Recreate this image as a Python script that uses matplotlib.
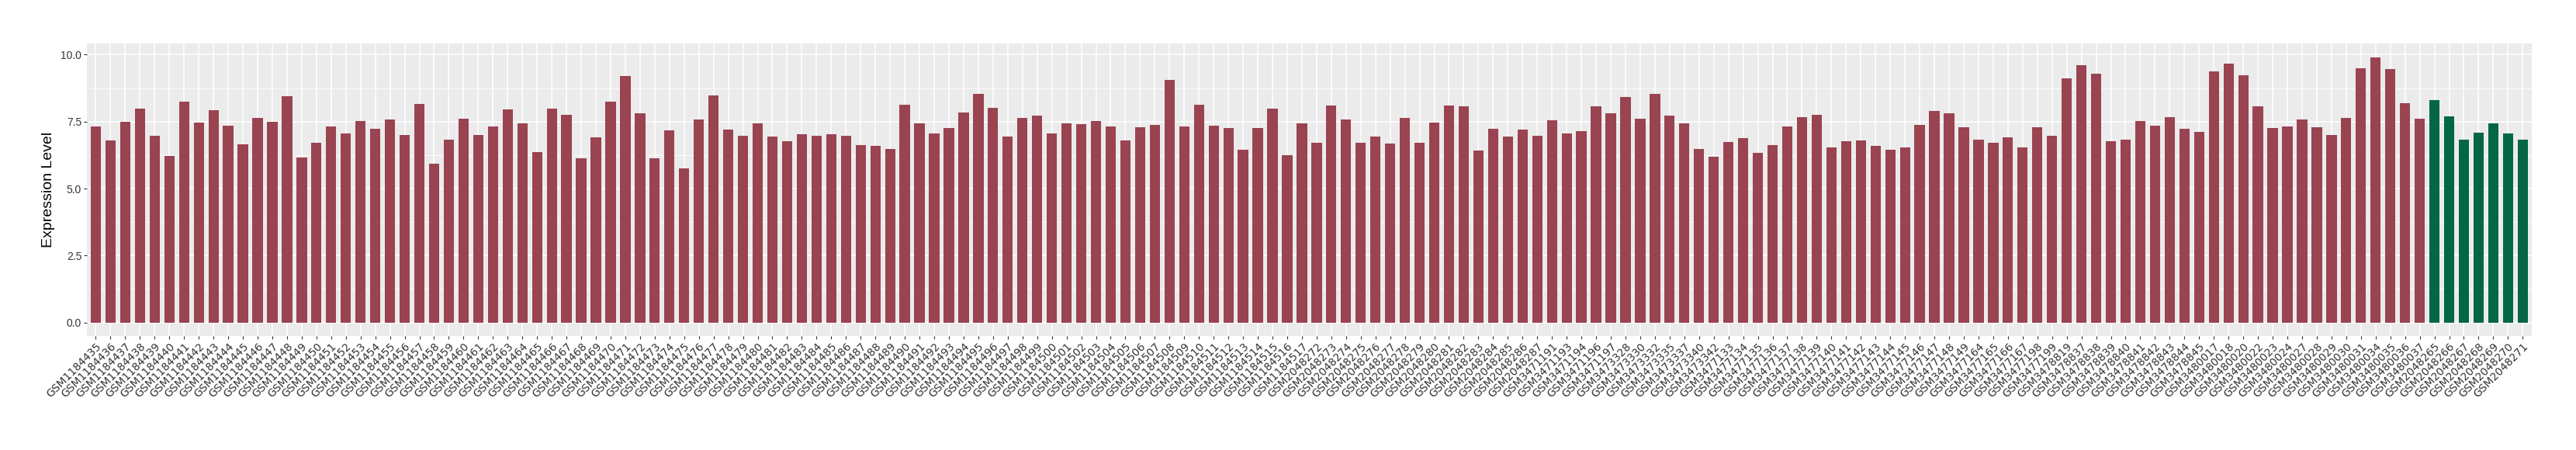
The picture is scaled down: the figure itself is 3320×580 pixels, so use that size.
import matplotlib
matplotlib.use("Agg")
import matplotlib.pyplot as plt
import numpy as np

# sample ids, in plot order
ids_1184 = ["GSM" + str(n) for n in range(1184435, 1184518)]
ids_2048_a = ["GSM" + str(n) for n in range(2048272, 2048288)]
ids_3471 = ["GSM3471191", "GSM3471193", "GSM3471194", "GSM3471196", "GSM3471197"]
ids_3473 = ["GSM3473328", "GSM3473330", "GSM3473332", "GSM3473335",
            "GSM3473337", "GSM3473340", "GSM3473342"]
ids_3477 = (["GSM" + str(n) for n in range(3477133, 3477150)]
            + ["GSM3477164", "GSM3477165", "GSM3477166", "GSM3477167",
               "GSM3477198", "GSM3477199"])
ids_3478 = ["GSM3478819", "GSM3478837", "GSM3478838", "GSM3478839", "GSM3478840",
            "GSM3478841", "GSM3478842", "GSM3478843", "GSM3478844", "GSM3478845"]
ids_3480 = ["GSM3480017", "GSM3480018", "GSM3480020", "GSM3480022", "GSM3480023",
            "GSM3480024", "GSM3480027", "GSM3480028", "GSM3480029", "GSM3480030",
            "GSM3480031", "GSM3480034", "GSM3480035", "GSM3480036", "GSM3480037"]
ids_normal = ["GSM" + str(n) for n in range(2048265, 2048272)]

# expression values
val_1184 = [7.31, 6.79, 7.48, 7.98, 6.96, 6.21, 8.24, 7.45, 7.92, 7.34,
            6.64, 7.63, 7.48, 8.46, 6.15, 6.70, 7.31, 7.05, 7.51, 7.22,
            7.57, 6.99, 8.15, 5.94, 6.84, 7.60, 6.99, 7.31, 7.95, 7.43,
            6.35, 7.98, 7.74, 6.12, 6.90, 8.24, 9.19, 7.80, 6.12, 7.16,
            5.74, 7.57, 8.49, 7.19, 6.96, 7.43, 6.93, 6.76, 7.02, 6.96,
            7.02, 6.96, 6.61, 6.58, 6.47, 8.12, 7.43, 7.05, 7.25, 7.83,
            8.55, 8.01, 6.93, 7.63, 7.72, 7.05, 7.43, 7.40, 7.51, 7.31,
            6.79, 7.28, 7.37, 9.07, 7.31, 8.12, 7.34, 7.25, 6.44, 7.25,
            7.98, 6.26, 7.43]
val_2048_a = [6.70, 8.09, 7.57, 6.70, 6.93, 6.67, 7.63, 6.70, 7.45, 8.09,
              8.06, 6.41, 7.22, 6.93, 7.19, 6.96]
val_3471 = [7.54, 7.05, 7.14, 8.06, 7.80]
val_3473 = [8.43, 7.60, 8.55, 7.72, 7.43, 6.47, 6.18]
val_3477 = [6.73, 6.87, 6.32, 6.61, 7.31, 7.66, 7.74, 6.53, 6.76, 6.79,
            6.58, 6.44, 6.55, 7.37, 7.89, 7.80, 7.28,
            6.82, 6.70, 6.90, 6.53, 7.28, 6.96]
val_3478 = [9.13, 9.62, 9.30, 6.76, 6.82, 7.51, 7.34, 7.66, 7.22, 7.11]
val_3480 = [9.39, 9.68, 9.24, 8.06, 7.25, 7.31, 7.57, 7.28, 6.99, 7.63,
            9.48, 9.91, 9.45, 8.18, 7.60]
val_normal = [8.30, 7.69, 6.84, 7.08, 7.43, 7.05, 6.82]

case_ids = ids_1184 + ids_2048_a + ids_3471 + ids_3473 + ids_3477 + ids_3478 + ids_3480
case_vals = val_1184 + val_2048_a + val_3471 + val_3473 + val_3477 + val_3478 + val_3480
labels = case_ids + ids_normal
values = case_vals + val_normal
colors = ["#9A4351"] * len(case_vals) + ["#036646"] * len(val_normal)

x = np.arange(len(labels))

fig = plt.figure(figsize=(33.2, 5.8), dpi=100)
ax = fig.add_axes([0.03377, 0.2541, 0.98274 - 0.03377, 0.9026 - 0.2541])
ax.set_facecolor("#EBEBEB")
ax.bar(x, values, width=0.7, color=colors, zorder=3)

ymax = max(values)
ax.set_xlim(-0.6, len(labels) - 0.4)
ax.set_ylim(-0.05 * ymax, 1.05 * ymax)
ax.set_yticks([0, 2.5, 5, 7.5, 10])
ax.set_yticklabels(["0.0", "2.5", "5.0", "7.5", "10.0"],
                   family="Liberation Sans", fontsize=10, color="#333333")
ax.set_yticks([1.25, 3.75, 6.25, 8.75], minor=True)
ax.set_xticks(x)
ax.set_xticklabels(labels, rotation=45, ha="right", rotation_mode="anchor",
                   family="DejaVu Sans", fontsize=10, color="#333333")

ax.grid(which="major", color="white", linewidth=1.1, zorder=1)
ax.grid(which="minor", axis="y", color="white", linewidth=0.55, zorder=1)
ax.tick_params(which="major", length=3, width=0.8, color="#333333", pad=2)
ax.tick_params(which="minor", length=0)
for s in ax.spines.values():
    s.set_visible(False)

ax.set_ylabel("Expression Level", family="Liberation Sans", fontsize=14, labelpad=5)

fig.savefig("out.png", dpi=100)
